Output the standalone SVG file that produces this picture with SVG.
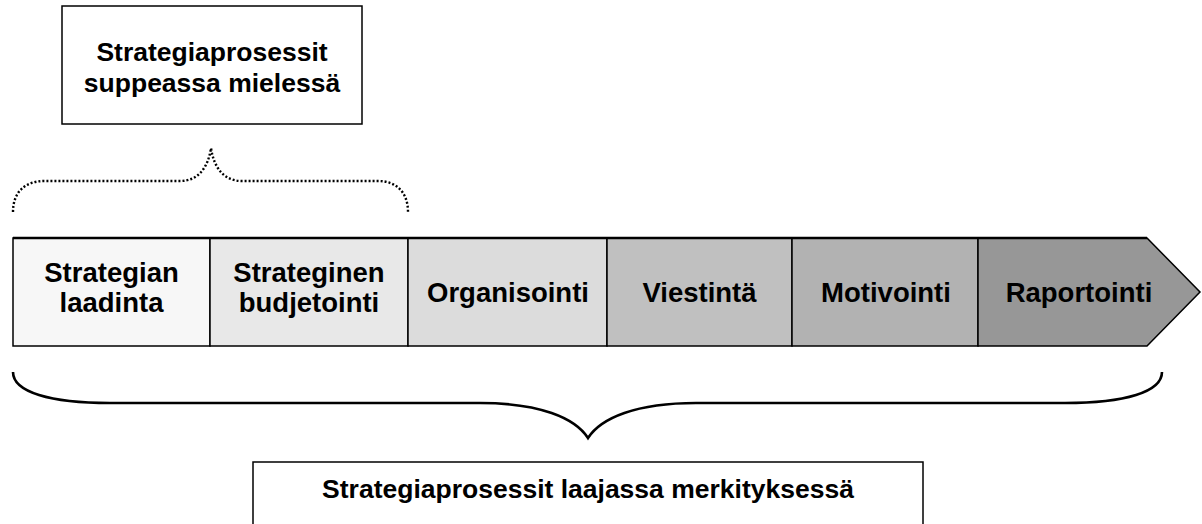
<svg xmlns="http://www.w3.org/2000/svg" width="1202" height="524" viewBox="0 0 1202 524">
  <style>
    .lbl { font-family: "Liberation Sans", Arial, sans-serif; font-weight: bold; font-size: 26.5px; fill: #000; text-anchor: middle; }
    .phase { font-size: 27.5px; }
    .box { stroke: #000; stroke-width: 1.5; }
    .frame { fill: #fff; stroke: #000; stroke-width: 1.5; }
    .brace { fill: none; stroke: #000; }
  </style>
  <rect width="1202" height="524" fill="#fff"/>

  <g id="narrow-scope">
    <rect class="frame" x="62" y="6" width="300" height="118"/>
    <text class="lbl" x="212" y="61">Strategiaprosessit</text>
    <text class="lbl" x="212" y="92">suppeassa mielessä</text>
  </g>

  <g id="connectors">
    <path class="brace" stroke-width="2.4" stroke-dasharray="2 2" d="M13,212 C13,192 25,181 45,181 L180,181 C198,181 208,168 211,148 C214,168 224,181 242,181 L378,181 C396,181 408,192 408,212"/>
    <path class="brace" stroke-width="2.6" d="M13,372 C13,392 50,403 110,403 L480,403 C540,403 575,418 588,438 C601,418 636,403 696,403 L1065,403 C1125,403 1162,392 1162,372"/>
  </g>

  <g id="phase-strategian-laadinta">
    <rect class="box" x="13" y="238" width="197" height="108" fill="#f7f7f7"/>
    <text class="lbl phase" x="111.5" y="282">Strategian</text>
    <text class="lbl phase" x="111.5" y="312">laadinta</text>
  </g>
  <g id="phase-strateginen-budjetointi">
    <rect class="box" x="210" y="238" width="198" height="108" fill="#e8e8e8"/>
    <text class="lbl phase" x="309" y="282">Strateginen</text>
    <text class="lbl phase" x="309" y="312">budjetointi</text>
  </g>
  <g id="phase-organisointi">
    <rect class="box" x="408" y="238" width="199" height="108" fill="#dcdcdc"/>
    <text class="lbl phase" x="508" y="302">Organisointi</text>
  </g>
  <g id="phase-viestinta">
    <rect class="box" x="607" y="238" width="185" height="108" fill="#c0c0c0"/>
    <text class="lbl phase" x="699.5" y="302">Viestintä</text>
  </g>
  <g id="phase-motivointi">
    <rect class="box" x="792" y="238" width="186" height="108" fill="#b2b2b2"/>
    <text class="lbl phase" x="886" y="302">Motivointi</text>
  </g>
  <g id="phase-raportointi">
    <path class="box" d="M978,238 L1147,238 L1200,292 L1147,346 L978,346 Z" fill="#979797"/>
    <text class="lbl phase" x="1079" y="302">Raportointi</text>
  </g>
  <!-- heavier top edge of the phase band -->
  <line x1="13" y1="238" x2="1147" y2="238" stroke="#000" stroke-width="2.5"/>

  <g id="broad-scope">
    <rect class="frame" x="253" y="462" width="670" height="100"/>
    <text class="lbl" x="588" y="498">Strategiaprosessit laajassa merkityksessä</text>
  </g>
</svg>
